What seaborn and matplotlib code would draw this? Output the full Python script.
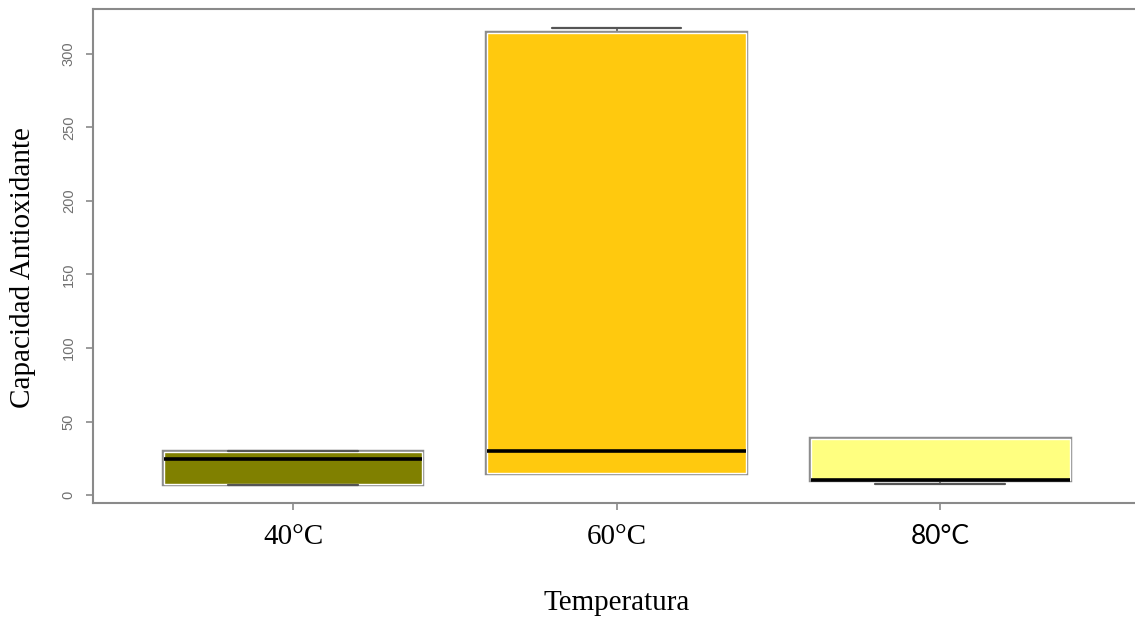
import matplotlib
matplotlib.use("Agg")
import matplotlib.pyplot as plt
import matplotlib.patheffects as pe
from matplotlib.font_manager import FontProperties
import seaborn as sns
import pandas as pd

# Five-number summaries (min, Q1, median, Q3, max)
temperaturas = ["40°C", "60°C", "80°C"]
minimos = [6.6, 14.7, 7.3]
q1s = [7.5, 14.7, 10.2]
medianas = [24.4, 30.1, 10.2]
q3s = [29.4, 314.5, 38.0]
maximos = [30.1, 317.5, 38.0]
colores = ["#808000", "#FFC90E", "#FFFF80"]
yticks = [0, 50, 100, 150, 200, 250, 300]

rows = []
for t, a, b, c, d, e in zip(temperaturas, minimos, q1s, medianas, q3s, maximos):
    for v in (a, b, c, d, e):
        rows.append({"Temperatura": t, "Capacidad": v})
df = pd.DataFrame(rows)

sns.set_style("white")
plt.rcParams["text.color"] = "black"
plt.rcParams["axes.labelcolor"] = "black"
fig = plt.figure(figsize=(11.35, 6.17), dpi=100)
ax = fig.add_axes([0.0815, 0.1848, 0.9235, 0.8002])

sns.boxplot(data=df, x="Temperatura", y="Capacidad", hue="Temperatura",
            order=temperaturas, hue_order=temperaturas, palette=colores,
            saturation=1, legend=False, width=0.8, linecolor="#8c8c8c",
            linewidth=1.5, whis=1.5, showfliers=False, ax=ax,
            medianprops={"color": "black", "linewidth": 2.6, "zorder": 3},
            capprops={"color": "#555555", "linewidth": 1.6, "zorder": 2.5},
            whiskerprops={"color": "#555555", "linewidth": 1.2,
                          "linestyle": "--", "zorder": 0.5})

for p in ax.patches:
    p.set_edgecolor("white")
    p.set_linewidth(1.0)
    p.set_zorder(1)
    p.set_path_effects([pe.Stroke(linewidth=3.2, foreground="#8c8c8c"), pe.Normal()])

# caps that coincide with a hinge (zero-length whisker) are not shown
for ln in ax.lines:
    xd, yd = list(ln.get_xdata()), list(ln.get_ydata())
    if len(xd) == 2 and yd[0] == yd[1] and abs(xd[1] - xd[0]) < 0.5:
        g = int(round((xd[0] + xd[1]) / 2))
        if abs(yd[0] - q1s[g]) < 1e-9 or abs(yd[0] - q3s[g]) < 1e-9:
            ln.set_visible(False)

ax.set_xlim(-0.62, 2.62)
ax.set_ylim(-5.4, 330.4)
ax.set_yticks(yticks)
ax.set_yticklabels([str(v) for v in yticks])
ax.set_xticks(range(len(temperaturas)))
ax.set_xticklabels(temperaturas)

for side in ["left", "bottom", "top", "right"]:
    ax.spines[side].set_color("#8a8a8a")
    ax.spines[side].set_linewidth(1.5)

ax.tick_params(axis="y", length=5, width=1.2, color="#8a8a8a", pad=7,
               labelsize=10.5, labelcolor="#707070", labelrotation=90, left=True)
ax.tick_params(axis="x", length=5, width=1.2, color="#8a8a8a", pad=10,
               labelsize=21, labelcolor="black", bottom=True)

ax.set_xlabel("Temperatura", fontsize=21, fontfamily="Liberation Serif", color="black")
ax.xaxis.set_label_coords(0.5005, -0.2167)
ax.xaxis.label.set_verticalalignment("baseline")

ax.set_ylabel("Capacidad Antioxidante", fontsize=21, fontfamily="Liberation Serif", color="black")
ax.yaxis.set_label_coords(-0.0663, 0.477)
ax.yaxis.label.set_verticalalignment("center")

fig.canvas.draw()
for lab in ax.get_yticklabels():
    lab.set_fontproperties(FontProperties(family="Liberation Sans", size=10.5))
    lab.set_verticalalignment("center")
for i, lab in enumerate(ax.get_xticklabels()):
    if i < 2:
        lab.set_fontproperties(FontProperties(family="Liberation Serif", size=21))
    else:
        lab.set_fontproperties(FontProperties(family="Lato", size=19))

fig.savefig("out.png", dpi=100)
